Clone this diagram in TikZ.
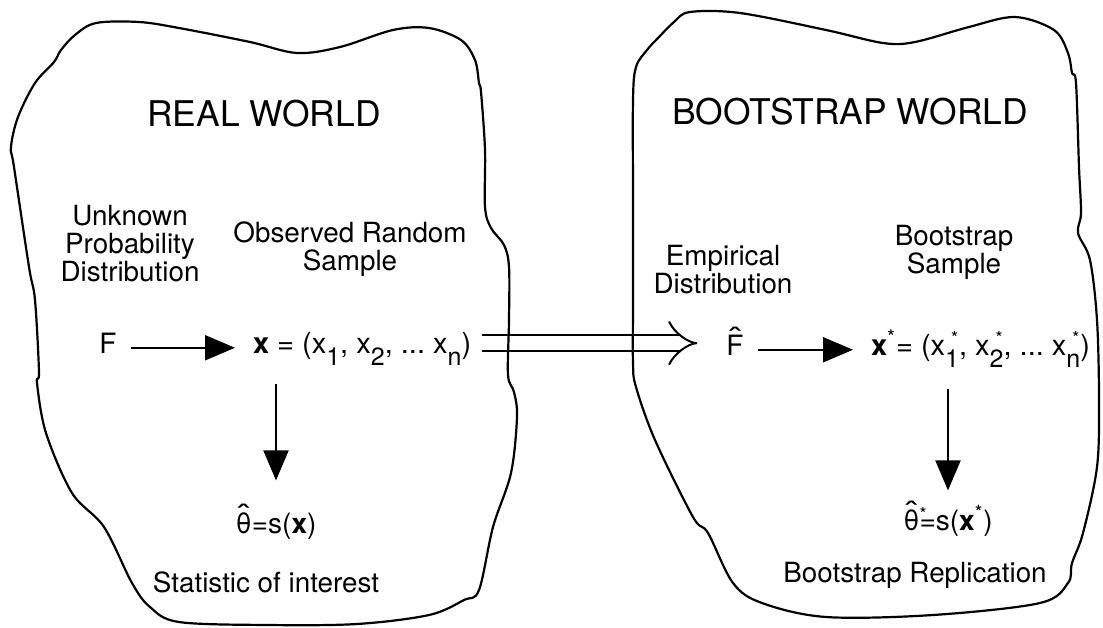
\documentclass[tikz,border=0pt]{standalone}
\usepackage{fontspec}
\usepackage{graphicx}
\setmainfont{TeX Gyre Heros}
\usetikzlibrary{arrows.meta}
\newcommand\lowsub[1]{\raisebox{-6pt}{\fontsize{12.5}{12.5}\selectfont #1}}
\newcommand\lowsubstar[1]{\makebox[0pt][l]{\raisebox{5.5pt}{\fontsize{9}{9}\selectfont\kern3pt*}}\lowsub{#1}}
\newcommand\hatsym[1]{\leavevmode\vbox{\offinterlineskip\halign{\hfil##\hfil\cr\scalebox{1.5}[1]{\char"02C6}\cr\noalign{\kern-6.3pt}#1\cr}}}
\begin{document}
\begin{tikzpicture}[x=0.5pt, y=-0.5pt, >={Triangle[length=15pt, width=12.5pt]}, line width=1pt, line join=round]
	\tikzset{
		world_outline/.style={line width=1.1pt}, % hand-drawn border of each world
		title_text/.style={inner sep=0pt, font=\fontsize{17.7}{19}\selectfont},
		label_text/.style={inner sep=0pt, align=center, font=\fontsize{13.9}{14}\selectfont},
		formula/.style={inner sep=0pt, font=\fontsize{14.5}{16}\selectfont\frenchspacing},
		plugin_arrow/.style={double, double distance=7pt, -{Implies[length=8pt, width=24pt]}}
	}
	\useasboundingbox (0,0) rectangle (1103,627);
	% real world
	\node[title_text] (real) at (264,114) {REAL WORLD};
	\node[label_text] (unknown) at (130,244) {Unknown\\Probability\\Distribution};
	\node[label_text] (observed) at (350,249) {Observed Random\\Sample};
	\node[formula, anchor=base, font=\fontsize{14}{16}\selectfont] (F) at (108,353) {F};
	\node[formula, anchor=base west] (x) at (252,353) {\textbf{x} = (x\lowsub{1}, x\lowsub{2}, ... x\lowsub{n})};
	\node[formula, anchor=base, font=\fontsize{14}{16}\selectfont] (theta) at (276,533) {\hatsym{θ}=s(\textbf{x})};
	\node[label_text] (statistic) at (266,582) {Statistic of interest};
	% bootstrap world
	\node[title_text] (boot) at (850,112) {BOOTSTRAP WORLD};
	\node[label_text] (empirical) at (723,270) {Empirical\\Distribution};
	\node[label_text] (bsample) at (954,252) {Bootstrap\\Sample};
	\node[formula, anchor=base, font=\fontsize{14}{16}\selectfont] (Fh) at (735,355) {\hatsym{F}};
	\node[formula, anchor=base west] (xs) at (870,355) {\textbf{x}\textsuperscript{*}= (x\lowsubstar{1}, x\lowsubstar{2}, ... x\lowsubstar{n})};
	\node[formula, anchor=base, font=\fontsize{14}{16}\selectfont] (ts) at (948,530) {\hatsym{θ}\rlap{\raisebox{5pt}{\fontsize{9}{9}\selectfont *}}=s(\textbf{x}\textsuperscript{*})};
	\node[label_text] (replication) at (915,575) {Bootstrap Replication};
	% plug-in step between the worlds
	\draw[plugin_arrow, shorten <=5pt, shorten >=14pt] ([yshift=2.3pt]x.mid east) -- ([yshift=2.3pt]x.mid east -| Fh.west);
	\draw[world_outline] plot[smooth cycle, tension=.55] coordinates {
		(54,62) (61,50) (75,35) (96,23) (139,22) (179,28) (250,42) (297,53) (340,47) (393,30) (429,28)
		(461,40) (475,60) (479,83) (481,92) (485,150) (485,207) (491,228) (504,245) (509,267) (509,320)
		(508,375) (514,392) (517,417) (511,473) (493,527) (479,590) (464,600) (429,615) (357,624)
		(268,625) (179,622) (150,607) (132,583) (104,527) (72,493) (46,433) (37,383) (39,372) (35,300)
		(29,267) (14,167) (11,147) (18,117) (35,83)};
	\draw[world_outline] plot[smooth cycle, tension=.55] coordinates {
		(636,67) (647,50) (658,38) (674,22) (690,12) (740,13) (826,30) (883,43) (915,42) (969,27)
		(1015,17) (1054,30) (1068,53) (1072,73) (1076,83) (1079,167) (1081,213) (1078,233) (1090,260)
		(1097,320) (1099,400) (1097,467) (1083,533) (1072,563) (1068,583) (1040,603) (933,615)
		(826,617) (762,603) (733,583) (708,533) (693,517) (655,440) (636,387) (633,363) (633,300)
		(633,200) (633,100)};
	% sampling and estimation steps
	\draw[->, shorten <=6.5pt, shorten >=8.5pt] (F.mid east) -- (x.mid west);
	\draw[->, shorten <=9pt, shorten >=11.5pt] (theta.north |- x.south) -- (theta.north);
	\draw[->, shorten <=6.7pt, shorten >=8.5pt] (Fh.mid east) -- (xs.mid west);
	\draw[->, shorten <=10.5pt, shorten >=5pt] (ts.north |- xs.south) -- (ts.north);
\end{tikzpicture}
\end{document}
